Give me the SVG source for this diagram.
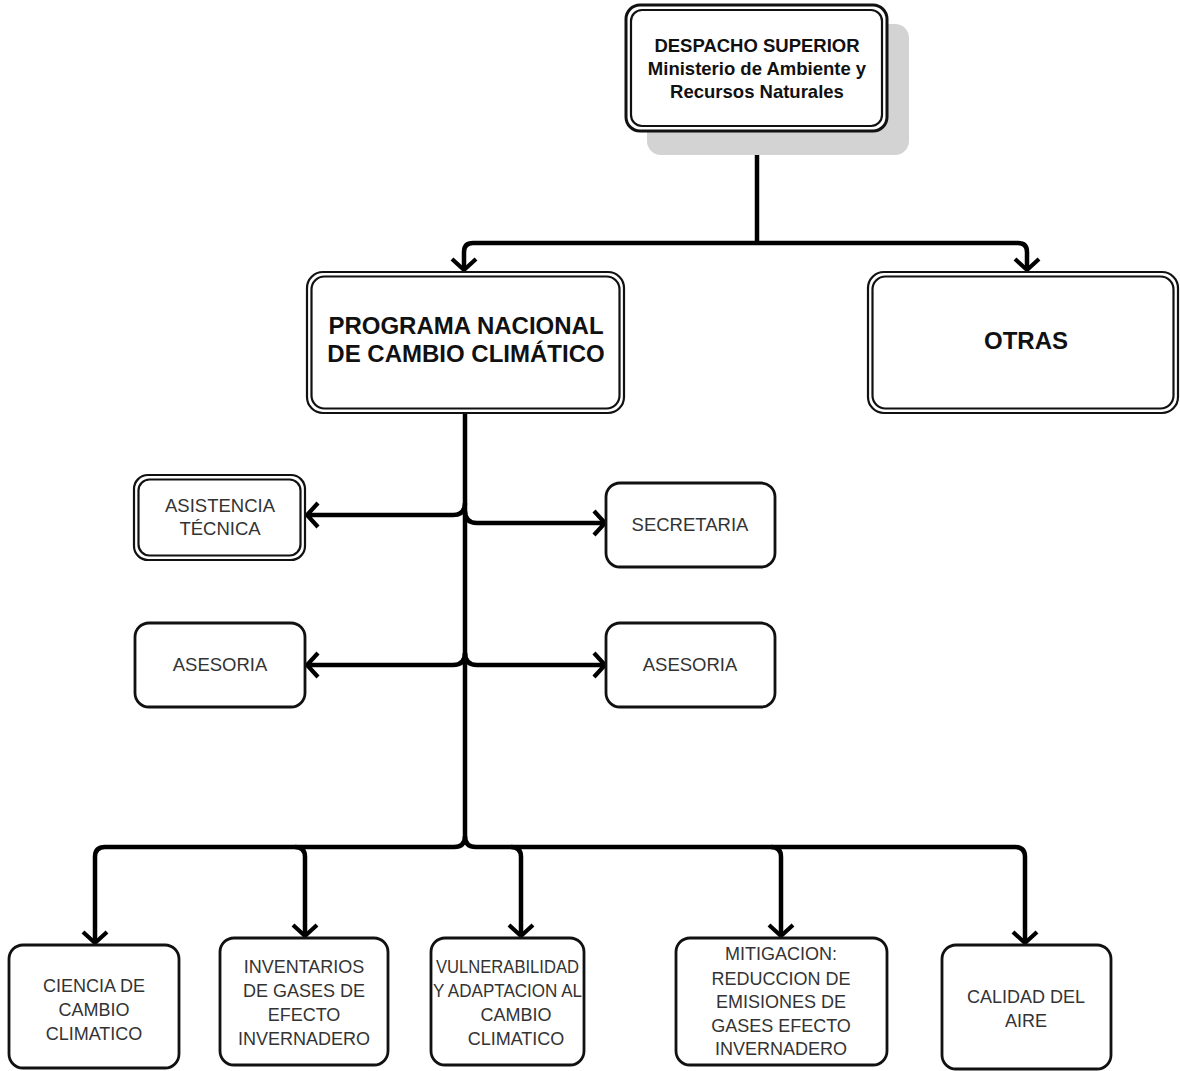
<svg xmlns="http://www.w3.org/2000/svg" width="1180" height="1071" viewBox="0 0 1180 1071">
<style>
.bx{fill:#fff;stroke:#111;stroke-width:2.8}
.o{fill:#fff;stroke:#111;stroke-width:2.2}
.i{fill:none;stroke:#111;stroke-width:2.2}
.c{fill:none;stroke:#000;stroke-width:4.5;stroke-linejoin:round}
.ca{fill:none;stroke:#000;stroke-width:4.5;stroke-linejoin:round;marker-end:url(#arr)}
.b{font-family:"Liberation Sans",Arial,sans-serif;font-weight:bold;fill:#111;text-anchor:middle}
.t{font-family:"Liberation Sans",Arial,sans-serif;fill:#333;text-anchor:middle}
</style>
<defs>
<marker id="arr" markerUnits="userSpaceOnUse" viewBox="-16 -16 20 32" refX="0" refY="0" markerWidth="20" markerHeight="32" orient="auto" overflow="visible">
<path d="M-11,-12 L0,0 L-11,12" fill="none" stroke="#000" stroke-width="4.2" stroke-linejoin="miter"/>
</marker>
</defs>
<rect width="1180" height="1071" fill="#fff"/>

<g id="connectors">
<path class="c" d="M757,131 V243"/>
<path class="ca" d="M757,243 H473 Q464,243 464,252 V270"/>
<path class="ca" d="M757,243 H1018 Q1027,243 1027,252 V270"/>
<path class="c" d="M465,413 V836"/>
<path class="ca" d="M465,503 Q465,515 453,515 H307"/>
<path class="ca" d="M465,511 Q465,523 477,523 H605"/>
<path class="ca" d="M465,653 Q465,665 453,665 H307"/>
<path class="ca" d="M465,653 Q465,665 477,665 H605"/>
<path class="ca" d="M465,836 Q465,847 454,847 H105 Q95,847 95,857 V943"/>
<path class="ca" d="M465,836 Q465,847 476,847 H1015 Q1025,847 1025,857 V943"/>
<path class="ca" d="M295,847 Q305,847 305,857 V936"/>
<path class="ca" d="M511,847 Q521,847 521,857 V936"/>
<path class="ca" d="M771,847 Q781,847 781,857 V936"/>
</g>

<g id="despacho">
<rect x="647" y="24" width="262" height="131" rx="14" fill="#d3d3d3"/>
<rect x="626" y="5" width="261" height="126" rx="14" fill="#fff" stroke="#111" stroke-width="3"/>
<rect x="631" y="10" width="251" height="116" rx="11" class="i"/>
<text class="b" x="757" y="52" font-size="18.5">DESPACHO SUPERIOR</text>
<text class="b" x="757" y="75" font-size="18.5">Ministerio de Ambiente y</text>
<text class="b" x="757" y="98" font-size="18.5">Recursos Naturales</text>
</g>

<g id="programa">
<rect x="307" y="272" width="317" height="141" rx="16" class="o"/>
<rect x="311.5" y="276.5" width="308" height="132" rx="13" class="i"/>
<text class="b" x="466" y="334" font-size="24">PROGRAMA NACIONAL</text>
<text class="b" x="466" y="362" font-size="24">DE CAMBIO CLIMÁTICO</text>
</g>

<g id="otras">
<rect x="868" y="272" width="310" height="141" rx="16" class="o"/>
<rect x="872.5" y="276.5" width="301" height="132" rx="13" class="i"/>
<text class="b" x="1026" y="349" font-size="24">OTRAS</text>
</g>

<g id="asistencia">
<rect x="134" y="475" width="171" height="85" rx="14" class="o"/>
<rect x="138.5" y="479.5" width="162" height="76" rx="11" class="i"/>
<text class="t" x="220" y="512" font-size="18.5">ASISTENCIA</text>
<text class="t" x="220" y="535" font-size="18.5">TÉCNICA</text>
</g>

<g id="secretaria">
<rect x="606" y="483" width="169" height="84" rx="14" class="bx"/>
<text class="t" x="690" y="531" font-size="18.5">SECRETARIA</text>
</g>

<g id="asesoria-izq">
<rect x="135" y="623" width="170" height="84" rx="14" class="bx"/>
<text class="t" x="220" y="671" font-size="18.5">ASESORIA</text>
</g>

<g id="asesoria-der">
<rect x="606" y="623" width="169" height="84" rx="14" class="bx"/>
<text class="t" x="690" y="671" font-size="18.5">ASESORIA</text>
</g>

<g id="ciencia">
<rect x="9" y="945" width="170" height="123" rx="14" class="bx"/>
<text class="t" x="94" y="992" font-size="18">CIENCIA DE</text>
<text class="t" x="94" y="1016" font-size="18">CAMBIO</text>
<text class="t" x="94" y="1040" font-size="18">CLIMATICO</text>
</g>

<g id="inventarios">
<rect x="220" y="938" width="168" height="127" rx="14" class="bx"/>
<text class="t" x="304" y="973" font-size="18">INVENTARIOS</text>
<text class="t" x="304" y="997" font-size="18">DE GASES DE</text>
<text class="t" x="304" y="1021" font-size="18">EFECTO</text>
<text class="t" x="304" y="1045" font-size="18">INVERNADERO</text>
</g>

<g id="vulnerabilidad">
<rect x="431" y="938" width="153" height="127" rx="14" class="bx"/>
<text class="t" x="507.5" y="973" font-size="18" textLength="143" lengthAdjust="spacingAndGlyphs">VULNERABILIDAD</text>
<text class="t" x="507.5" y="997" font-size="18" textLength="149" lengthAdjust="spacingAndGlyphs">Y ADAPTACION AL</text>
<text class="t" x="516" y="1021" font-size="18">CAMBIO</text>
<text class="t" x="516" y="1045" font-size="18">CLIMATICO</text>
</g>

<g id="mitigacion">
<rect x="676" y="938" width="211" height="127" rx="14" class="bx"/>
<text class="t" x="781" y="960" font-size="18">MITIGACION:</text>
<text class="t" x="781" y="985" font-size="18">REDUCCION DE</text>
<text class="t" x="781" y="1008" font-size="18">EMISIONES DE</text>
<text class="t" x="781" y="1032" font-size="18">GASES EFECTO</text>
<text class="t" x="781" y="1055" font-size="18">INVERNADERO</text>
</g>

<g id="calidad">
<rect x="942" y="945" width="169" height="124" rx="14" class="bx"/>
<text class="t" x="1026" y="1003" font-size="18">CALIDAD DEL</text>
<text class="t" x="1026" y="1027" font-size="18">AIRE</text>
</g>
</svg>
